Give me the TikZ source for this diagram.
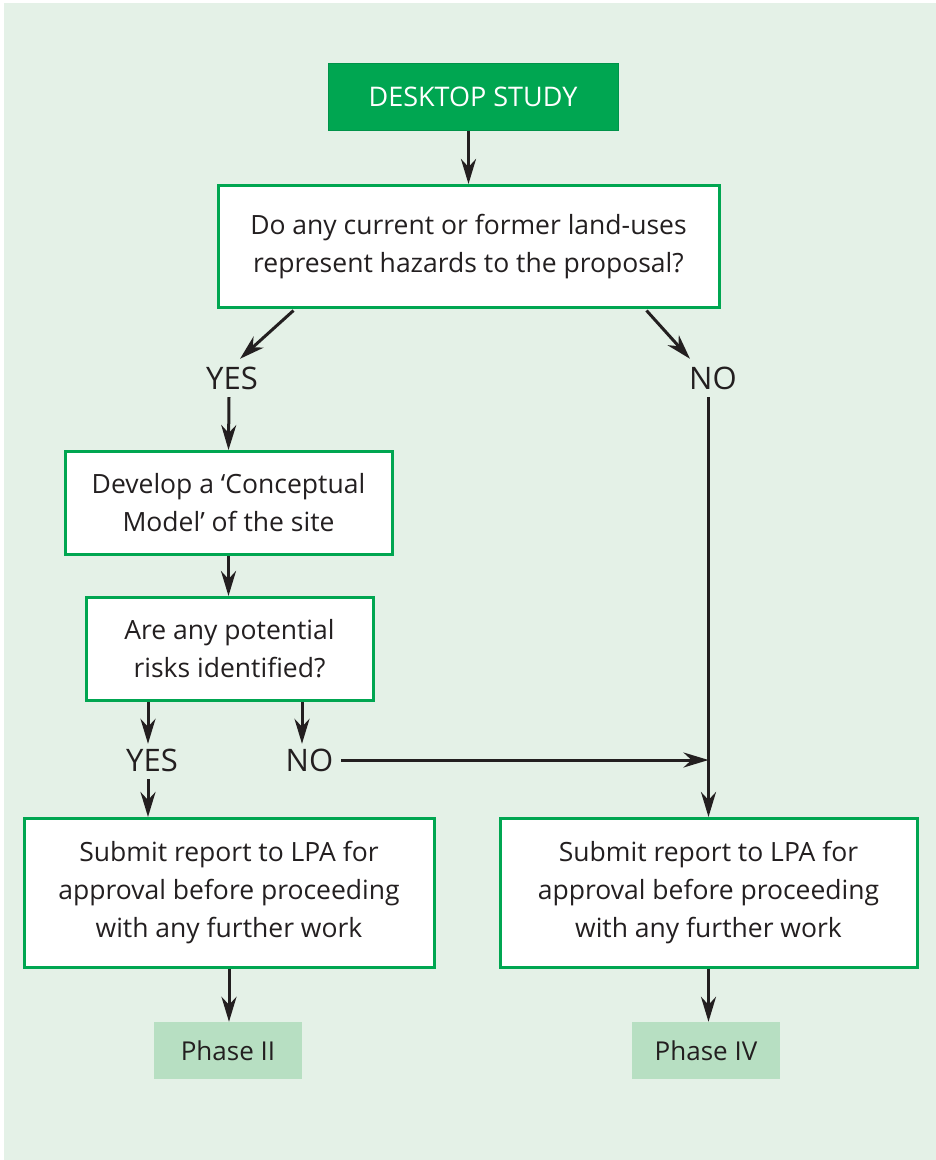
\documentclass[tikz,border=0pt]{standalone}
\usepackage{fontspec}
\setmainfont{Open Sans}
\usetikzlibrary{arrows.meta,calc}
\definecolor{bgc}{HTML}{E4F1E7}
\definecolor{gfill}{HTML}{00A651}
\definecolor{gline}{HTML}{00A651}
\definecolor{gdark}{HTML}{00934A}
\definecolor{phasec}{HTML}{B7DFC2}
\definecolor{ink}{HTML}{231F20}
\begin{document}
\begin{tikzpicture}[x=1pt,y=-1pt,
  every node/.style={font=\fontsize{26.5}{38}\selectfont, text=ink},
  startbox/.style={fill=gfill, draw=gdark, line width=1pt, text=white, inner sep=0pt,
    font=\fontsize{27}{38}\selectfont},
  qbox/.style={fill=white, draw=gline, line width=3pt, align=center, inner sep=0pt},
  phasebox/.style={fill=phasec, inner sep=0pt, font=\fontsize{26}{38}\selectfont},
  answer/.style={inner sep=8pt, text height=22pt, text depth=0pt,
    font=\fontsize{31}{38}\selectfont},
  flow/.style={draw=ink, line width=3pt, -{Stealth[length=25pt,width=15pt,inset=8pt]}},
  plain/.style={draw=ink, line width=3pt}]
  \useasboundingbox (0,0) rectangle (936,1160);
  \fill[bgc] (4,3) rectangle (936,1160);

  % boxes
  \node[startbox, minimum width=290pt, minimum height=67pt] (desk) at (473,96.5) {DESKTOP STUDY};
  \node[qbox, minimum width=501pt, minimum height=122pt] (q1) at (468.5,246.5)
    {Do any current or former land-uses\\represent hazards to the proposal?};
  \node[qbox, minimum width=327pt, minimum height=103pt] (dev) at (228.5,503)
    {Develop a ‘Conceptual\\Model’ of the site};
  \node[qbox, minimum width=287pt, minimum height=103pt] (risk) at (229.5,649)
    {Are any potential\\risks identified?};
  \node[qbox, minimum width=410pt, minimum height=149pt] (sub1) at (229,893)
    {Submit report to LPA for\\approval before proceeding\\with any further work};
  \node[qbox, minimum width=417pt, minimum height=149pt] (sub2) at (708.5,893)
    {Submit report to LPA for\\approval before proceeding\\with any further work};
  \node[phasebox, minimum width=148pt, minimum height=57pt] (ph2) at (228,1050.5) {Phase II};
  \node[phasebox, minimum width=148pt, minimum height=57pt] (ph4) at (706,1050.5) {Phase IV};

  % answers
  \node[answer] (yes1) at (232,378) {YES};
  \node[answer] (no1) at (713,378) {NO};
  \node[answer] (yes2) at (152,760) {YES};
  \node[answer] (no2) at (309.5,760) {NO};
  \coordinate (join) at ($(sub2.north)!(no2.east)!(sub2.north |- no1.south)$);

  % connectors
  \draw[flow] (desk.south -| q1.north) -- (q1.north);
  \draw[flow] ($(q1.south west)+(77,1.5)$) -- ($(yes1.north)+(8,0)$);
  \draw[flow] ($(q1.south east)+(-74,1.5)$) -- ($(no1.north)+(-23,0)$);
  \draw[flow] ($(yes1.south)+(-3,0)$) -- (dev.north);
  \draw[flow] (dev.south) -- (risk.north -| dev.south);
  \draw[flow] (risk.south -| {$(yes2.north)+(-4,0)$}) -- ($(yes2.north)+(-4,3)$);
  \draw[flow] (risk.south -| {$(no2.north)+(-7.5,0)$}) -- ($(no2.north)+(-7.5,3)$);
  \draw[flow] ($(yes2.south)+(-4,0)$) -- (sub1.north -| {$(yes2.south)+(-4,0)$});
  \draw[plain] (no1.south -| sub2.north) -- (join);
  \draw[flow] (join) -- (sub2.north);
  \draw[flow] (no2.east) -- (join);
  \draw[flow] (sub1.south) -- (ph2.north -| sub1.south);
  \draw[flow] (sub2.south) -- (ph4.north -| sub2.south);
\end{tikzpicture}
\end{document}
